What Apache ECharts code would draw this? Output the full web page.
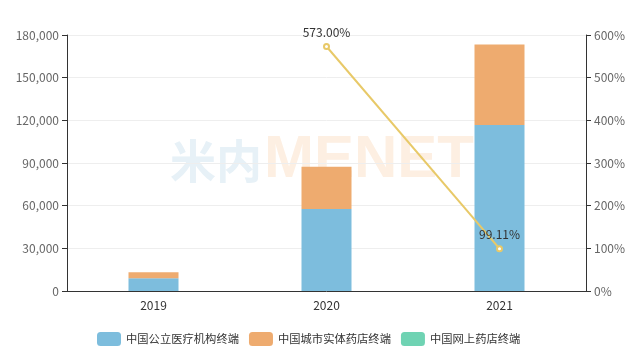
<!DOCTYPE html>
<html><head><meta charset="utf-8">
<script src="https://cdn.jsdelivr.net/npm/echarts@6/dist/echarts.min.js"></script>
<style>html,body{margin:0;padding:0;background:#fff}#c{width:643px;height:362px}</style>
</head><body><div id="c"></div>
<script>
var years = ['2019', '2020', '2021'];
var seriesNames = ['中国公立医疗机构终端', '中国城市实体药店终端', '中国网上药店终端'];
var publicHospital = [8900, 57700, 116700];
var retailPharmacy = [4250, 29600, 56600];
var onlinePharmacy = [0, 0, 0];
var growthRate = [null, 573.00, 99.11];
var leftTicks = [0, 30000, 60000, 90000, 120000, 150000, 180000];
var rightTicks = [0, 100, 200, 300, 400, 500, 600];

var chart = echarts.init(document.getElementById('c'), null, {renderer: 'canvas'});
var font = '"Microsoft YaHei","Noto Sans CJK SC",sans-serif';
chart.setOption({
  animation: false,
  textStyle: {fontFamily: font},
  color: ['#7dbddd', '#eeab6f', '#6fd3b3', '#e8c968'],
  graphic: [
    {type: 'text', left: 170, top: 138, z: 0, silent: true,
     style: {text: '米内', font: 'bold 46px "Noto Sans CJK SC",sans-serif', fill: '#e7f1f7'}},
    {type: 'text', left: 264, top: 130, z: 0, silent: true,
     style: {text: 'MENET', font: 'bold 60px "Liberation Sans",Arial,sans-serif', fill: '#fdefe2'}}
  ],
  grid: {left: 67, right: 57, top: 35, bottom: 71},
  legend: {
    bottom: 16, left: 97, padding: 0, itemWidth: 24, itemHeight: 14, itemGap: 10,
    icon: 'roundRect',
    data: seriesNames,
    textStyle: {color: '#333', fontSize: 11.3, fontFamily: font}
  },
  xAxis: {
    type: 'category', data: years,
    axisLine: {lineStyle: {color: '#333'}},
    axisTick: {lineStyle: {color: '#333'}},
    axisLabel: {color: '#333', fontSize: 12}
  },
  yAxis: [
    {type: 'value', min: leftTicks[0], max: leftTicks[leftTicks.length - 1], interval: 30000,
     axisLine: {show: true, lineStyle: {color: '#333'}},
     axisTick: {show: true, lineStyle: {color: '#333'}},
     axisLabel: {color: '#666', fontSize: 12, formatter: function (v) { return v.toLocaleString('en-US'); }},
     splitLine: {lineStyle: {color: '#eee'}}},
    {type: 'value', min: rightTicks[0], max: rightTicks[rightTicks.length - 1], interval: 100,
     axisLine: {show: true, lineStyle: {color: '#333'}},
     axisTick: {show: true, lineStyle: {color: '#333'}},
     axisLabel: {color: '#666', fontSize: 12, formatter: '{value}%'},
     splitLine: {show: false}}
  ],
  series: [
    {name: seriesNames[0], type: 'bar', stack: 'a', barWidth: 50, data: publicHospital, z: 2},
    {name: seriesNames[1], type: 'bar', stack: 'a', barWidth: 50, data: retailPharmacy, z: 2},
    {name: seriesNames[2], type: 'bar', stack: 'a', barWidth: 50, data: onlinePharmacy, z: 2},
    {name: '增长率', type: 'line', yAxisIndex: 1, data: growthRate, z: 5,
     symbol: 'emptyCircle', symbolSize: 5, connectNulls: false,
     lineStyle: {color: '#e8c968', width: 2},
     itemStyle: {color: '#e8c968'},
     label: {show: true, position: 'top', color: '#333', fontSize: 12,
             formatter: function (p) { return p.value.toFixed(2) + '%'; }}}
  ]
});
</script></body></html>
